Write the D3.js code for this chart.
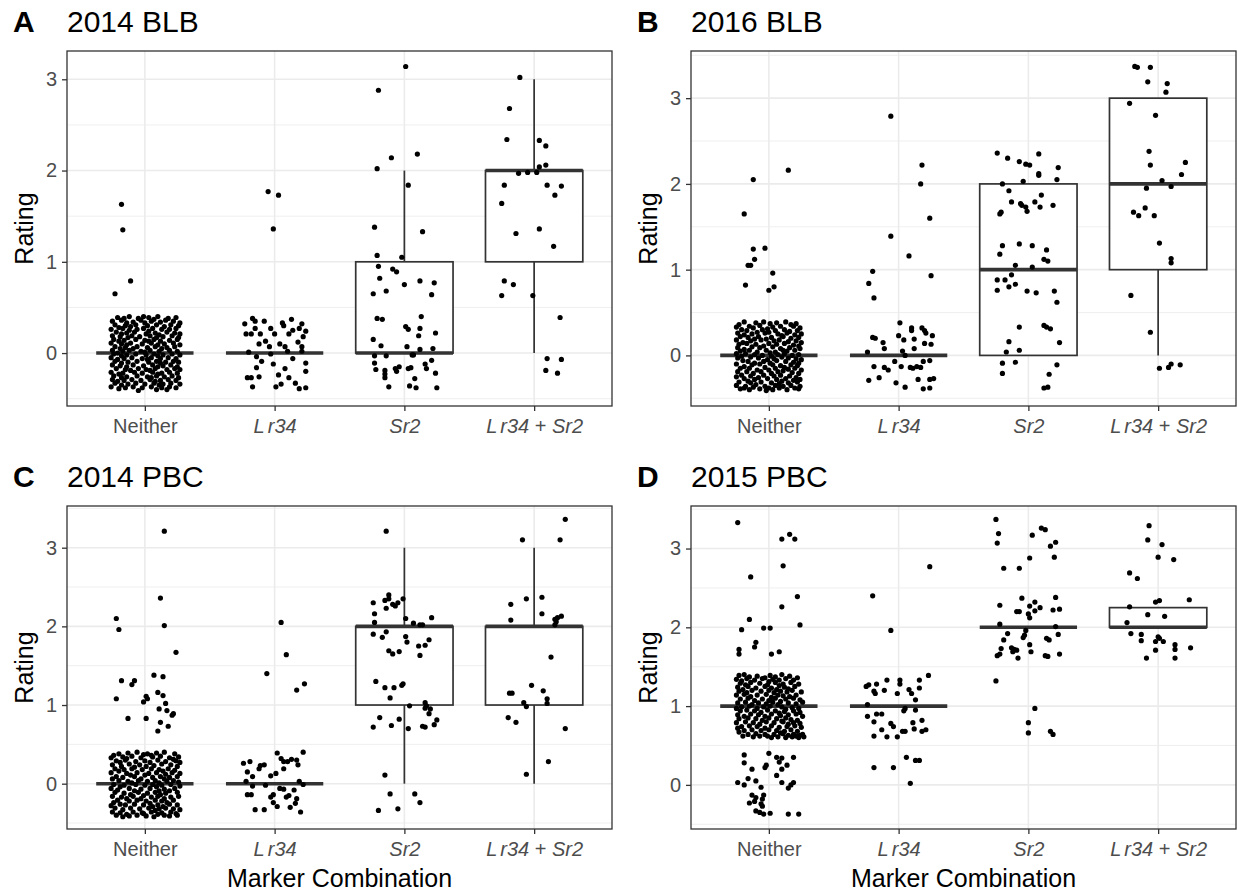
<!DOCTYPE html>
<html>
<head>
<meta charset="utf-8">
<script src="https://cdn.jsdelivr.net/npm/d3@7"></script>
<style>
body { margin: 0; background: #fff; }
svg { display: block; font-family: "Liberation Sans", Arial, sans-serif; }
</style>
</head>
<body>
<div id="chart"></div>
<script>
const categories = ['Neither', 'Lr34', 'Sr2', 'Lr34+Sr2'];
const panelTags = ['A', 'B', 'C', 'D'];
const panelTitles = ['2014 BLB', '2016 BLB', '2014 PBC', '2015 PBC'];
const yTicks = [0, 1, 2, 3];
const yMinorTicks = [-0.5, 0.5, 1.5, 2.5, 3.5];
const yLimits = [[-0.58, 3.31], [-0.59, 3.55], [-0.576, 3.53], [-0.56, 3.54]];
// [lower whisker, q1, median, q3, upper whisker]
const boxStats = [
  [[0, 0, 0, 0, 0], [0, 0, 0, 0, 0], [0, 0, 0, 1, 2], [0, 1, 2, 2, 3]],
  [[0, 0, 0, 0, 0], [0, 0, 0, 0, 0], [0, 0, 1, 2, 2], [0, 1, 2, 3, 3]],
  [[0, 0, 0, 0, 0], [0, 0, 0, 0, 0], [0, 1, 2, 2, 3], [0, 1, 2, 2, 3]],
  [[1, 1, 1, 1, 1], [1, 1, 1, 1, 1], [2, 2, 2, 2, 2], [2, 2, 2, 2.25, 2.25]]
];

// jittered points: [offset in category units, jittered rating]
const neitherA = [[-.18,1.63],[-.17,1.35],[-.11,.79],[-.23,.65],
[-.21,.39],[-.12,.40],[-.05,.38],[.03,.39],[.10,.40],[.18,.38],[.24,.39],[-.16,.38],[.07,.37],[-.01,.40],
[-.25,.35],[-.18,.36],[-.09,.34],[-.03,.36],[.05,.35],[.12,.34],[.16,.36],[.22,.35],[.27,.33],[-.14,.33],[.00,.33],
[-.23,.31],[-.15,.30],[-.07,.31],[.02,.30],[.09,.31],[.15,.29],[.20,.31],[.26,.30],[-.11,.29],[-.20,.28],
[-.26,.26],[-.17,.27],[-.06,.26],[-.01,.27],[.06,.27],[.13,.26],[.19,.26],[.24,.27],[-.12,.25],[.03,.24],
[-.22,.23],[-.14,.22],[-.08,.23],[.01,.21],[.08,.22],[.17,.23],[.23,.22],[.27,.21],[-.18,.21],[.11,.20],
[-.25,.19],[-.19,.18],[-.10,.19],[-.04,.18],[.04,.19],[.14,.18],[.21,.19],[.26,.17],[-.13,.17],[.09,.17],
[-.24,.15],[-.16,.14],[-.07,.15],[.00,.14],[.07,.15],[.12,.13],[.19,.14],[.25,.15],[-.20,.13],[.03,.13],
[-.26,.11],[-.18,.10],[-.11,.11],[-.02,.10],[.05,.11],[.15,.10],[.22,.11],[.27,.09],[-.14,.09],[.10,.09],
[-.23,.07],[-.15,.06],[-.06,.07],[.02,.06],[.08,.07],[.17,.06],[.23,.07],[-.19,.05],[-.09,.05],[.13,.05],
[-.25,.03],[-.17,.02],[-.12,.03],[-.03,.02],[.04,.03],[.11,.02],[.19,.03],[.25,.02],[.00,.01],[-.21,.00],
[-.24,-.01],[-.14,-.02],[-.07,-.01],[.01,-.02],[.07,-.01],[.14,-.02],[.21,-.01],[.27,-.02],[-.18,-.03],[.10,-.03],
[-.26,-.05],[-.16,-.06],[-.10,-.05],[-.02,-.06],[.05,-.05],[.12,-.06],[.18,-.05],[.24,-.06],[-.21,-.07],[.02,-.07],
[-.23,-.09],[-.13,-.10],[-.06,-.09],[.03,-.10],[.09,-.09],[.16,-.10],[.22,-.09],[.26,-.10],[-.18,-.11],[.12,-.11],
[-.25,-.13],[-.19,-.14],[-.09,-.13],[-.01,-.14],[.06,-.13],[.14,-.14],[.20,-.13],[-.14,-.15],[.10,-.15],[.25,-.15],
[-.22,-.17],[-.15,-.18],[-.05,-.17],[.01,-.18],[.08,-.17],[.17,-.18],[.23,-.17],[.27,-.18],[-.11,-.19],[.04,-.19],
[-.26,-.21],[-.17,-.22],[-.08,-.21],[-.02,-.22],[.06,-.21],[.13,-.22],[.19,-.21],[.25,-.22],[-.20,-.23],[.10,-.23],
[-.24,-.25],[-.14,-.26],[-.06,-.25],[.02,-.26],[.09,-.25],[.15,-.26],[.21,-.25],[-.18,-.27],[.05,-.27],[.26,-.27],
[-.25,-.29],[-.16,-.30],[-.10,-.29],[-.03,-.30],[.04,-.29],[.12,-.30],[.18,-.29],[.24,-.30],[-.21,-.31],[.08,-.31],
[-.23,-.33],[-.13,-.34],[-.07,-.33],[.00,-.34],[.07,-.33],[.14,-.34],[.20,-.33],[.27,-.34],[-.18,-.35],[.11,-.35],
[-.26,-.37],[-.15,-.38],[-.09,-.37],[-.02,-.38],[.05,-.37],[.13,-.38],[.19,-.37],[.24,-.38],[-.20,-.39],[.09,-.40],[-.05,-.41],[.17,-.40]];
const lr34A = [[-.05,1.77],[.03,1.73],[-.01,1.36],
[-.17,.38],[-.23,.32],[-.15,.35],[-.08,.35],[-.15,.27],[-.11,.21],[-.03,.27],[.06,.33],[.07,.30],[.13,.37],
[.21,.32],[.14,.25],[.19,.27],[.24,.24],[.22,.18],[-.18,.21],[-.07,.13],[-.12,.10],[.04,.10],[.08,.07],
[.21,.07],[.21,.02],[-.20,.01],[-.03,-.01],[-.14,-.04],[.14,-.06],[.24,-.11],[-.01,-.12],[-.14,-.16],
[.08,-.17],[.24,-.20],[-.21,-.27],[-.18,-.27],[-.12,-.26],[.03,-.24],[.11,-.27],[.16,-.33],[-.17,-.37],
[.01,-.37],[.05,-.34],[.19,-.39],[.24,-.38],[-.04,.07],[.10,.02],[-.22,.21],[-.10,-.09],[.18,.12],[.11,.21],[.00,.21]];
const sr2A = [[.01,3.14],[-.20,2.88],[-.10,2.14],[.10,2.18],[-.21,2.02],[.03,1.84],[-.23,1.38],[.14,1.33],
[-.21,1.07],[-.02,1.05],[-.20,.95],[-.09,.92],[-.06,.89],[-.19,.82],[.00,.75],[.12,.79],[.23,.77],[-.24,.65],
[-.14,.68],[.21,.64],[-.21,.38],[-.17,.37],[.13,.40],[.01,.29],[.03,.26],[.12,.27],[.11,.19],[.24,.22],
[-.24,.15],[-.18,.08],[.02,.07],[.12,.04],[.22,.05],[.06,-.02],[.07,-.02],[-.23,-.03],[-.14,-.03],[-.23,-.11],
[.21,-.08],[.16,-.12],[.17,-.17],[-.22,-.18],[-.15,-.19],[-.15,-.23],[-.07,-.17],[-.04,-.15],[-.06,-.20],
[.03,-.17],[.05,-.16],[.24,-.22],[-.15,-.27],[.08,-.28],[-.12,-.37],[.04,-.36],[.09,-.38],[.25,-.38]];
const bothA = [[-.11,3.02],[-.19,2.68],[-.21,2.34],[.04,2.33],[.09,2.27],[.04,2.04],[.09,2.06],[-.12,1.97],
[-.05,1.98],[.02,1.98],[-.23,1.84],[.10,1.84],[.21,1.83],[.16,1.73],[-.25,1.64],[.04,1.36],[-.14,1.31],
[.15,1.17],[-.23,.79],[-.16,.75],[-.25,.63],[-.01,.63],[.20,.39],[.10,-.06],[.21,-.07],[.09,-.19],[.18,-.22]];

const neitherB = [[-.12,2.05],[.15,2.16],[-.19,1.65],[-.12,1.24],[-.03,1.25],[-.11,1.12],[-.16,1.05],[-.14,1.05],
[.03,.96],[-.18,.82],[.04,.80],[.00,.76],
[-.19,.39],[-.10,.38],[-.04,.39],[.06,.38],[.13,.39],[.21,.37],[-.23,.36],[.01,.37],[.17,.36],
[-.25,.33],[-.15,.34],[-.07,.35],[.03,.33],[.09,.34],[.19,.34],[.24,.32],[-.12,.32],[-.01,.31],
[-.21,.30],[-.17,.29],[-.05,.30],[.05,.29],[.12,.30],[.16,.28],[.22,.29],[-.09,.27],[.00,.27],
[-.24,.26],[-.13,.25],[-.03,.26],[.07,.25],[.14,.26],[.20,.24],[.25,.25],[-.19,.24],[.10,.23],
[-.22,.22],[-.16,.21],[-.08,.22],[.02,.21],[.11,.22],[.17,.20],[.23,.21],[-.02,.19],[-.11,.19],
[-.25,.18],[-.14,.17],[-.06,.18],[.04,.17],[.08,.18],[.15,.16],[.21,.17],[-.20,.15],[.25,.15],
[-.23,.13],[-.17,.14],[-.10,.13],[.00,.14],[.06,.13],[.12,.14],[.19,.12],[-.04,.11],[.23,.11],
[-.24,.09],[-.13,.10],[-.07,.09],[.03,.10],[.09,.08],[.16,.09],[.24,.08],[-.19,.07],[.11,.06],
[-.22,.05],[-.15,.06],[-.02,.06],[.05,.04],[.14,.05],[.20,.06],[-.09,.04],[.01,.03],[-.25,.02],
[-.18,.02],[-.11,.01],[-.05,.00],[.07,.01],[.12,.02],[.18,.00],[.23,.01],[-.21,-.01],[.02,-.01],
[-.24,-.03],[-.14,-.02],[-.08,-.03],[.04,-.04],[.10,-.02],[.15,-.03],[.21,-.04],[-.01,-.05],[.25,-.05],
[-.20,-.06],[-.16,-.07],[-.04,-.07],[.06,-.06],[.13,-.07],[.19,-.08],[-.11,-.09],[.01,-.09],[.23,-.09],
[-.25,-.10],[-.13,-.11],[-.07,-.10],[.03,-.11],[.09,-.12],[.17,-.11],[.22,-.12],[-.19,-.13],[.12,-.14],
[-.22,-.15],[-.15,-.15],[-.03,-.14],[.05,-.15],[.15,-.16],[.20,-.15],[-.09,-.17],[.00,-.17],[.25,-.17],
[-.24,-.19],[-.17,-.19],[-.06,-.19],[.07,-.19],[.11,-.18],[.18,-.20],[.23,-.21],[-.12,-.21],[.02,-.21],
[-.21,-.23],[-.14,-.24],[-.04,-.23],[.04,-.24],[.09,-.23],[.16,-.24],[-.08,-.26],[.21,-.26],[-.25,-.25],
[-.19,-.27],[-.11,-.28],[-.01,-.27],[.06,-.28],[.13,-.27],[.19,-.29],[.24,-.28],[-.16,-.30],[.10,-.30],
[-.23,-.31],[-.14,-.32],[-.06,-.31],[.02,-.32],[.08,-.33],[.15,-.32],[.22,-.31],[-.10,-.34],[.05,-.35],
[-.25,-.35],[-.18,-.36],[-.03,-.36],[.11,-.36],[.17,-.35],[.24,-.36],[-.12,-.37],[.00,-.38],[.20,-.38],
[-.22,-.39],[-.15,-.40],[-.07,-.39],[.03,-.40],[.08,-.38],[.14,-.40],[-.02,-.41],[-.19,-.38],[.23,-.39]];
const lr34B = [[-.06,2.79],[.18,2.22],[.17,2.00],[.24,1.60],[-.06,1.39],[.08,1.16],[-.20,.98],[-.23,.84],
[.25,.93],[-.19,.67],[.01,.38],[.10,.32],[.10,.29],[.18,.32],[.20,.29],[.21,.26],[-.20,.21],[-.18,.20],
[-.12,.15],[-.11,.08],[.00,.23],[.04,.18],[.12,.19],[.20,.14],[-.24,.04],[.03,.05],[.12,.08],[-.03,-.07],
[.19,-.07],[.05,.00],[-.19,-.13],[-.11,-.14],[-.15,-.26],[-.08,-.17],[.02,-.13],[.09,-.14],[.11,-.15],
[.14,-.13],[.17,-.14],[-.23,-.29],[-.02,-.32],[.05,-.37],[.15,-.28],[.19,-.39],[.24,-.28],[.26,.23],
[.25,.13],[.24,-.06],[.27,-.27],[.24,-.38]];
const sr2B = [[-.24,2.36],[-.16,2.30],[-.07,2.26],[-.02,2.23],[.01,2.22],[.08,2.35],[.08,2.12],[.08,2.10],
[.23,2.19],[-.20,2.00],[-.04,2.03],[.22,2.05],[-.15,1.92],[.10,1.87],[-.13,1.79],[-.06,1.77],[-.05,1.75],
[-.02,1.73],[-.01,1.68],[.05,1.79],[.09,1.73],[.19,1.75],[-.21,1.67],[-.22,1.65],[-.20,1.28],[-.07,1.30],
[.03,1.28],[.14,1.23],[-.22,1.18],[.12,1.12],[.15,1.10],[-.10,1.05],[.03,1.03],[-.13,.94],[-.24,.88],
[-.18,.88],[-.15,.80],[-.10,.83],[-.24,.76],[-.01,.75],[.06,.73],[.20,.75],[.22,.62],[-.07,.33],[.12,.35],
[.14,.33],[.17,.31],[-.15,.16],[.24,.15],[-.17,.04],[-.07,.06],[-.20,-.09],[-.10,-.08],[.22,-.11],
[-.20,-.21],[.16,-.22],[.12,-.38],[.15,-.37]];
const bothB = [[-.18,3.37],[-.16,3.36],[-.06,3.36],[-.08,3.19],[.07,3.17],[.06,3.07],[-.22,2.94],[-.02,2.80],
[-.07,2.38],[-.06,2.22],[.21,2.25],[.18,2.11],[.03,2.04],[.10,1.97],[-.09,1.95],[-.19,1.67],[-.15,1.63],
[-.10,1.72],[-.03,1.63],[.01,1.31],[.10,1.13],[.10,1.08],[-.21,.70],[-.06,.27],[.01,-.15],[.08,-.14],
[.10,-.10],[.17,-.11]];

const neitherC = [[.15,3.21],[.12,2.36],[-.22,2.10],[-.20,1.96],[.15,2.01],[.24,1.67],[.07,1.38],[.14,1.36],
[-.18,1.31],[-.08,1.31],[-.10,1.26],[.10,1.16],[.14,1.12],[.01,1.11],[.02,1.08],[-.22,1.08],[-.01,1.04],
[.16,1.02],[.11,.95],[.17,.93],[.21,.87],[.22,.89],[-.13,.83],[.01,.83],[.12,.78],[.18,.73],[.10,.67],
[-.20,.38],[-.13,.39],[-.06,.40],[.02,.38],[.09,.39],[.15,.40],[.23,.38],[-.24,.36],[.05,.36],[-.01,.37],
[-.26,.33],[-.17,.34],[-.10,.35],[-.03,.33],[.06,.34],[.12,.35],[.19,.33],[.26,.34],[-.14,.32],[.22,.31],
[-.22,.29],[-.15,.30],[-.07,.28],[.00,.29],[.10,.30],[.16,.28],[.24,.29],[-.19,.27],[.04,.27],[.27,.27],
[-.25,.24],[-.12,.25],[-.04,.24],[.07,.23],[.13,.25],[.20,.24],[-.18,.22],[.01,.22],[.25,.22],[-.08,.21],
[-.23,.19],[-.16,.18],[-.10,.19],[-.02,.18],[.05,.19],[.11,.18],[.18,.19],[.23,.17],[-.20,.16],[.14,.16],
[-.26,.14],[-.14,.13],[-.06,.14],[.03,.13],[.09,.14],[.16,.12],[.21,.14],[.27,.13],[-.11,.11],[.00,.11],
[-.22,.09],[-.17,.08],[-.08,.09],[.06,.08],[.12,.09],[.19,.08],[.25,.09],[-.25,.06],[-.03,.06],[.15,.06],
[-.20,.04],[-.13,.03],[-.05,.04],[.02,.03],[.08,.04],[.17,.03],[.22,.04],[-.10,.01],[.11,.01],[.26,.02],
[-.24,-.01],[-.16,-.02],[-.07,-.01],[.00,-.02],[.06,-.01],[.13,-.02],[.20,-.01],[.27,-.03],[-.19,-.04],[.09,-.04],
[-.26,-.06],[-.12,-.06],[-.03,-.07],[.04,-.06],[.15,-.07],[.23,-.06],[-.21,-.08],[-.08,-.09],[.11,-.09],[.19,-.09],
[-.23,-.11],[-.16,-.12],[-.05,-.11],[.02,-.12],[.08,-.11],[.16,-.12],[.25,-.11],[-.11,-.14],[.12,-.14],[-.01,-.15],
[-.25,-.16],[-.18,-.17],[-.09,-.16],[.05,-.17],[.10,-.16],[.20,-.17],[.26,-.16],[-.14,-.19],[.15,-.19],[-.03,-.19],
[-.21,-.21],[-.12,-.22],[-.06,-.21],[.01,-.22],[.08,-.21],[.13,-.22],[.22,-.21],[-.24,-.24],[.17,-.24],[.04,-.25],
[-.19,-.26],[-.15,-.27],[-.08,-.26],[-.01,-.27],[.10,-.27],[.19,-.26],[.25,-.27],[-.26,-.28],[.06,-.29],[.14,-.29],
[-.23,-.31],[-.11,-.31],[-.04,-.32],[.03,-.31],[.11,-.32],[.16,-.31],[.22,-.32],[-.17,-.33],[.27,-.33],[.08,-.34],
[-.25,-.36],[-.19,-.37],[-.09,-.36],[-.02,-.37],[.05,-.36],[.13,-.37],[.20,-.36],[.24,-.38],[-.14,-.39],[.10,-.39],
[-.22,-.40],[-.12,-.41],[-.06,-.40],[.01,-.41],[.07,-.42],[.15,-.40],[.19,-.41],[-.17,-.42],[.25,-.40],[-.01,-.38]];
const lr34C = [[.05,2.05],[.09,1.64],[-.06,1.40],[.17,1.19],[.23,1.27],
[-.24,.26],[-.19,.28],[-.21,.15],[-.17,.09],[-.22,.03],[-.12,.19],[-.11,.23],[-.08,.24],[-.07,-.02],
[-.17,-.03],[-.18,-.14],[-.21,-.14],[-.03,.10],[.01,.13],[.02,.39],[.05,.32],[.07,.28],[.10,.28],[.07,.19],
[.13,.31],[.17,.30],[.18,.24],[.22,.40],[.19,.03],[.22,-.01],[-.01,-.14],[-.03,-.17],[-.01,-.24],[.04,-.06],
[.07,-.07],[.02,-.29],[.09,-.17],[.11,-.15],[.15,-.08],[.17,-.19],[.16,-.25],[.12,-.30],[.20,-.36],
[-.15,-.33],[-.08,-.33]];
const sr2C = [[-.14,3.21],[-.24,2.30],[-.15,2.33],[-.14,2.23],[-.12,2.40],[-.12,2.35],[-.09,2.28],[-.05,2.30],
[-.07,2.26],[-.01,2.35],[-.23,2.16],[-.23,2.05],[.01,2.10],[.07,2.04],[.12,2.02],[.14,2.02],[.21,2.11],
[-.24,1.90],[-.14,1.93],[-.17,1.86],[.01,1.87],[.02,1.80],[.19,1.83],[.11,1.75],[.16,1.76],[.12,1.63],
[-.12,1.69],[-.09,1.65],[-.04,1.68],[-.22,1.30],[-.15,1.22],[-.08,1.22],[-.02,1.25],[-.01,1.27],[-.11,1.09],
[.04,.99],[.16,1.03],[.17,.99],[.20,.95],[.19,.89],[.16,.96],[-.19,.84],[-.04,.82],[.25,.81],[.23,.75],
[-.24,.72],[-.10,.74],[.03,.70],[.14,.73],[.16,.72],[-.15,.11],[-.11,-.13],[.08,-.13],[.12,-.24],
[-.20,-.34],[-.05,-.32]];
const bothC = [[.24,3.36],[-.09,3.10],[.20,3.10],[-.18,2.28],[-.06,2.35],[.06,2.37],[-.18,2.08],[.06,2.16],
[.16,2.09],[.18,2.11],[.21,2.13],[.17,2.06],[.16,2.02],[.13,1.61],[-.19,1.15],[-.17,1.15],[-.02,1.25],
[.07,1.18],[.10,1.08],[.10,1.02],[-.08,1.03],[-.06,.98],[-.20,.84],[-.14,.78],[.24,.70],[.11,.28],[-.06,.12]];

const neitherD = [[-.24,3.33],[.10,3.12],[.16,3.18],[.20,3.12],[.11,2.78],[-.14,2.64],[.22,2.39],[.10,2.26],
[-.15,2.10],[-.21,1.97],[-.04,1.99],[.01,1.99],[.24,2.03],[-.10,1.81],[-.11,1.75],[-.23,1.72],[-.23,1.66],
[.02,1.66],[.08,1.69],
[-.19,.38],[-.19,.28],[.00,.40],[.06,.35],[.10,.34],[.08,.29],[.19,.35],[-.02,.25],[-.03,.22],[-.13,.20],
[.14,.25],[.10,.20],[.06,.12],[-.24,.03],[-.19,.00],[-.16,.08],[-.10,.05],[.10,.03],[.19,.03],[.17,.00],
[.15,-.04],[-.06,-.03],[-.13,-.13],[-.10,-.16],[-.04,-.13],[-.05,-.18],[-.15,-.23],[-.11,-.21],[-.06,-.24],
[-.05,-.27],[-.10,-.33],[-.07,-.35],[-.04,-.37],[.01,-.36],[.15,-.37],[.23,-.37],
[-.23,1.39],[-.19,1.40],[-.09,1.38],[.01,1.39],[.10,1.40],[.16,1.38],[-.15,1.37],[.05,1.37],[.22,1.36],[-.03,1.36],
[-.25,1.34],[-.17,1.35],[-.11,1.33],[-.05,1.35],[.03,1.34],[.08,1.33],[.13,1.35],[.19,1.33],[-.21,1.32],[.00,1.31],
[-.22,1.29],[-.14,1.30],[-.07,1.29],[.05,1.30],[.11,1.28],[.17,1.30],[-.18,1.27],[-.01,1.27],[.08,1.26],[.23,1.28],
[-.24,1.24],[-.16,1.25],[-.10,1.23],[-.03,1.25],[.02,1.23],[.12,1.24],[.15,1.22],[.20,1.25],[-.20,1.21],[.06,1.21],
[-.23,1.19],[-.13,1.20],[-.06,1.19],[.00,1.20],[.09,1.19],[.14,1.18],[.18,1.20],[-.17,1.17],[.04,1.17],[.25,1.18],
[-.25,1.14],[-.19,1.15],[-.09,1.14],[-.02,1.15],[.07,1.14],[.11,1.13],[.21,1.14],[-.14,1.12],[.02,1.11],[.16,1.12],
[-.22,1.09],[-.16,1.10],[-.05,1.09],[.05,1.10],[.13,1.09],[.19,1.10],[-.11,1.07],[.00,1.07],[.24,1.08],[.09,1.06],
[-.24,1.04],[-.18,1.05],[-.08,1.04],[-.02,1.03],[.03,1.05],[.15,1.04],[.21,1.03],[-.13,1.02],[.07,1.02],[.26,1.05],
[-.21,.99],[-.15,1.00],[-.04,.99],[.01,1.00],[.10,.99],[.18,.98],[-.25,.97],[-.09,.97],[.13,.96],[.23,.97],
[-.22,.94],[-.17,.95],[-.11,.94],[-.01,.95],[.05,.94],[.12,.93],[.19,.94],[.24,.92],[-.06,.92],[.08,.91],
[-.24,.89],[-.14,.90],[-.08,.89],[.02,.90],[.09,.88],[.15,.89],[.21,.90],[-.19,.87],[-.03,.87],[.26,.87],
[-.23,.84],[-.16,.85],[-.10,.84],[.00,.85],[.06,.84],[.13,.85],[.17,.83],[-.05,.82],[.22,.82],[.10,.81],
[-.25,.79],[-.18,.80],[-.12,.79],[-.02,.80],[.04,.79],[.11,.80],[.19,.79],[.24,.78],[-.07,.77],[.15,.77],
[-.21,.74],[-.15,.75],[-.09,.74],[.02,.75],[.08,.73],[.14,.74],[.20,.75],[-.24,.72],[-.03,.72],[.25,.73],
[-.19,.69],[-.13,.70],[-.06,.69],[.00,.70],[.06,.69],[.12,.68],[.17,.70],[.22,.68],[-.23,.67],[.09,.66],
[-.16,.64],[-.10,.65],[-.03,.64],[.04,.64],[.11,.65],[.15,.63],[.19,.64],[.24,.63],[-.20,.62],[-.07,.62],
[-.12,.61],[.02,.60],[.07,.61],[.13,.60],[.18,.61],[.23,.60],[.27,.61],[-.01,.62],[.21,.62],[.26,.64]];
const lr34D = [[-.20,2.40],[-.06,1.96],[.24,2.77],
[-.23,1.27],[-.25,1.25],[-.19,1.19],[-.18,1.16],[-.09,1.33],[-.11,1.20],[-.17,1.28],[.01,1.33],[.01,1.28],
[-.01,1.16],[.08,1.21],[.10,1.16],[.13,1.08],[.16,1.33],[.16,1.23],[.23,1.39],[-.24,1.02],[.05,.97],
[.04,.94],[.13,.95],[-.24,.87],[-.17,.90],[-.13,.90],[-.19,.80],[-.06,.78],[-.04,.74],[.05,.68],[.11,.79],
[.18,.82],[-.13,.70],[-.19,.62],[-.09,.61],[-.01,.61],[.03,.68],[.12,.71],[.18,.68],[.21,.70],[-.19,.22],
[-.04,.22],[.06,.35],[.13,.31],[.16,.31],[.09,.02]];
const sr2D = [[-.25,3.37],[-.23,3.19],[-.24,3.07],[.03,3.17],[.10,3.26],[.13,3.24],[.17,3.03],[.21,3.08],
[.01,2.88],[.20,2.89],[-.19,2.75],[-.07,2.75],[-.22,2.28],[-.05,2.37],[.01,2.27],[.05,2.32],[.05,2.21],
[.09,2.25],[.00,2.17],[.01,2.12],[-.09,2.20],[-.07,2.20],[.21,2.38],[.19,2.22],[.24,2.23],[-.22,2.04],
[.21,2.01],[-.02,1.96],[-.03,1.90],[-.04,1.87],[-.16,1.92],[-.19,1.84],[.23,1.91],[.14,1.86],[.16,1.84],
[.01,1.78],[-.13,1.74],[-.11,1.72],[-.09,1.71],[-.08,1.61],[-.12,1.69],[-.21,1.73],[-.24,1.64],[-.22,1.66],
[.02,1.69],[.13,1.64],[.15,1.63],[.24,1.66],[-.25,1.32],[.05,.97],[.00,.79],[.00,.66],[.17,.68],[.19,.64]];
const bothD = [[-.07,3.29],[-.08,3.11],[.03,3.05],[.00,2.89],[.12,2.86],[-.22,2.69],[-.16,2.62],[-.02,2.32],
[.01,2.34],[.24,2.35],[-.22,2.26],[-.08,2.16],[.05,2.14],[-.24,2.06],[-.21,1.92],[-.13,1.91],[-.13,1.83],
[.00,1.88],[.01,1.86],[-.02,1.82],[.04,1.82],[.13,1.78],[.13,1.72],[.25,1.74],[-.02,1.71],[-.09,1.61],[.13,1.61]];

const jitterPoints = [
  [neitherA, lr34A, sr2A, bothA],
  [neitherB, lr34B, sr2B, bothB],
  [neitherC, lr34C, sr2C, bothC],
  [neitherD, lr34D, sr2D, bothD]
];

// tick label pieces: [text, italic]
const tickParts = {
  'Neither': [['Neither', false]],
  'Lr34': [['L', true], ['r34', true]],
  'Sr2': [['Sr2', true]],
  'Lr34+Sr2': [['L', true], ['r34', true], [' + ', false], ['Sr2', true]]
};

const panelBoxes = [
  { left: 67, top: 51, right: 612, bottom: 406, xTitle: false },
  { left: 691, top: 51, right: 1236, bottom: 406, xTitle: false },
  { left: 67, top: 506, right: 612, bottom: 829, xTitle: true },
  { left: 691, top: 506, right: 1236, bottom: 829, xTitle: true }
];

const ink = '#333333';
const svg = d3.select('#chart').append('svg').attr('width', 1238).attr('height', 895);

panelBoxes.forEach((p, i) => {
  const g = svg.append('g');
  const x = d3.scalePoint().domain(categories).range([p.left, p.right]).padding(0.6);
  const step = x.step();
  const y = d3.scaleLinear().domain(yLimits[i]).range([p.bottom, p.top]);
  const [lo, hi] = yLimits[i];

  // grid
  g.append('g').selectAll('line').data(yMinorTicks.filter(v => v > lo && v < hi)).enter()
    .append('line')
    .attr('x1', p.left).attr('x2', p.right)
    .attr('y1', d => y(d)).attr('y2', d => y(d))
    .attr('stroke', '#EBEBEB').attr('stroke-width', 0.8);
  g.append('g').selectAll('line').data(yTicks).enter()
    .append('line')
    .attr('x1', p.left).attr('x2', p.right)
    .attr('y1', d => y(d)).attr('y2', d => y(d))
    .attr('stroke', '#EBEBEB').attr('stroke-width', 1.6);
  g.append('g').selectAll('line').data(categories).enter()
    .append('line')
    .attr('x1', d => x(d)).attr('x2', d => x(d))
    .attr('y1', p.top).attr('y2', p.bottom)
    .attr('stroke', '#EBEBEB').attr('stroke-width', 1.6);

  // boxplots
  const bw = step * 0.75;
  boxStats[i].forEach((s, k) => {
    const cx = x(categories[k]);
    const [wl, q1, med, q3, wh] = s;
    const bg = g.append('g');
    if (wl < q1) bg.append('line').attr('x1', cx).attr('x2', cx).attr('y1', y(wl)).attr('y2', y(q1))
      .attr('stroke', ink).attr('stroke-width', 1.7);
    if (wh > q3) bg.append('line').attr('x1', cx).attr('x2', cx).attr('y1', y(q3)).attr('y2', y(wh))
      .attr('stroke', ink).attr('stroke-width', 1.7);
    if (q3 > q1) bg.append('rect')
      .attr('x', cx - bw / 2).attr('y', y(q3))
      .attr('width', bw).attr('height', y(q1) - y(q3))
      .attr('fill', '#fff').attr('stroke', ink).attr('stroke-width', 1.7);
    bg.append('line')
      .attr('x1', cx - bw / 2).attr('x2', cx + bw / 2)
      .attr('y1', y(med)).attr('y2', y(med))
      .attr('stroke', ink).attr('stroke-width', 3.6);
  });

  // jittered points
  jitterPoints[i].forEach((pts, k) => {
    const cx = x(categories[k]);
    g.append('g').selectAll('circle').data(pts).enter()
      .append('circle')
      .attr('cx', d => cx + d[0] * step)
      .attr('cy', d => y(d[1]))
      .attr('r', 2.6)
      .attr('fill', '#000');
  });

  // panel border
  g.append('rect')
    .attr('x', p.left).attr('y', p.top)
    .attr('width', p.right - p.left).attr('height', p.bottom - p.top)
    .attr('fill', 'none').attr('stroke', ink).attr('stroke-width', 1.3);

  // axes
  const ya = g.append('g').attr('transform', `translate(${p.left},0)`)
    .call(d3.axisLeft(y).tickValues(yTicks).tickSize(5).tickPadding(5).tickFormat(d3.format('d')));
  ya.select('.domain').remove();
  ya.selectAll('.tick line').attr('stroke', ink).attr('stroke-width', 1.3);
  ya.selectAll('.tick text').attr('fill', '#4D4D4D').style('font-size', '20px')
    .style('font-family', '"Liberation Sans", Arial, sans-serif');

  const xa = g.append('g').attr('transform', `translate(0,${p.bottom})`)
    .call(d3.axisBottom(x).tickSize(5).tickPadding(8));
  xa.select('.domain').remove();
  xa.selectAll('.tick line').attr('stroke', ink).attr('stroke-width', 1.3);
  xa.selectAll('.tick text').each(function (d) {
    const t = d3.select(this).text(null)
      .attr('fill', '#4D4D4D').style('font-size', '20px')
      .style('font-family', '"Liberation Sans", Arial, sans-serif');
    tickParts[d].forEach((part, j) => {
      const ts = t.append('tspan').text(part[0]).style('font-style', part[1] ? 'italic' : 'normal');
      if (part[0] === 'r34') ts.attr('dx', 3);
    });
  });

  // y title
  g.append('text')
    .attr('transform', `translate(${p.left - 34},${(p.top + p.bottom) / 2}) rotate(-90)`)
    .attr('text-anchor', 'middle')
    .style('font-size', '25px').attr('fill', '#000')
    .text('Rating');

  // x title
  if (p.xTitle) {
    g.append('text')
      .attr('x', (p.left + p.right) / 2).attr('y', p.bottom + 58)
      .attr('text-anchor', 'middle')
      .style('font-size', '25px').attr('fill', '#000')
      .text('Marker Combination');
  }

  // titles
  g.append('text')
    .attr('x', p.left - 54).attr('y', p.top - 19)
    .style('font-size', '30px').style('font-weight', 'bold').attr('fill', '#000')
    .text(panelTags[i]);
  g.append('text')
    .attr('x', p.left).attr('y', p.top - 19)
    .style('font-size', '30px').attr('fill', '#000')
    .text(panelTitles[i]);
});
</script>
</body>
</html>
